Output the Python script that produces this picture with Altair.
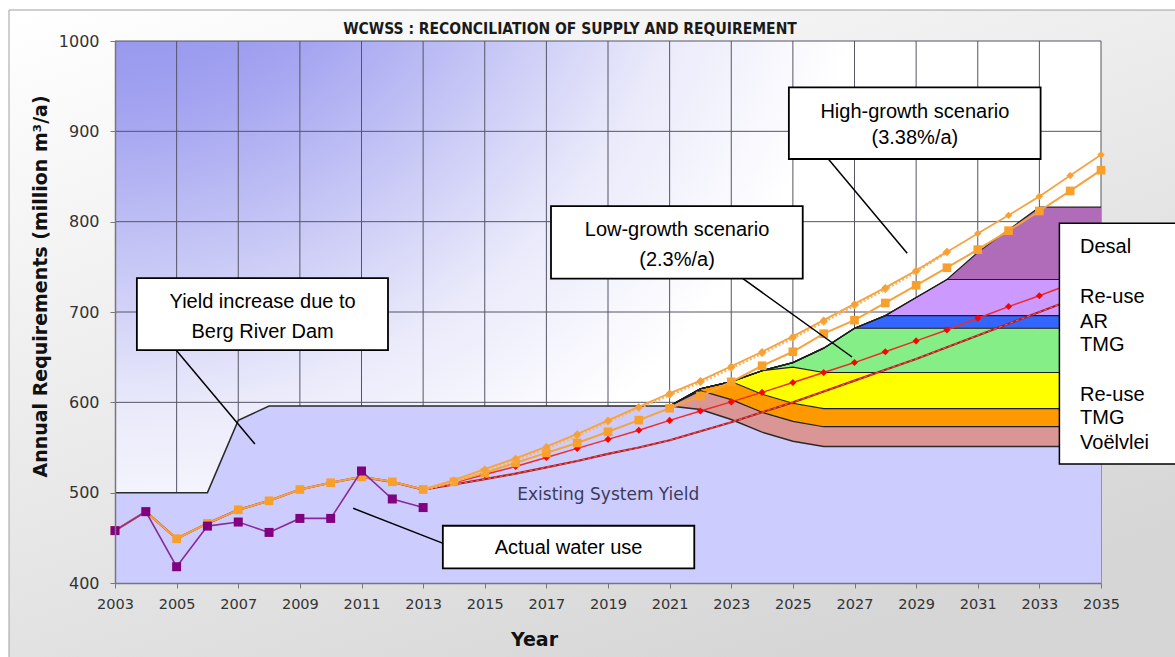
import altair as alt
import pandas as pd

# ---------------- data ----------------
X_TICKS = [2003, 2005, 2007, 2009, 2011, 2013, 2015, 2017, 2019, 2021, 2023, 2025, 2027, 2029, 2031, 2033, 2035]
Y_TICKS = [400, 500, 600, 700, 800, 900, 1000]
X_GRID = [2005, 2007, 2009, 2011, 2013, 2015, 2017, 2019, 2021, 2023, 2025, 2027, 2029, 2031, 2033, 2035]
Y_GRID = [500, 600, 700, 800, 900, 1000]

YEARS = [2003, 2004, 2005, 2006, 2007, 2008, 2009, 2010, 2011, 2012, 2013, 2014, 2015, 2016, 2017, 2018,
         2019, 2020, 2021, 2022, 2023, 2024, 2025, 2026, 2027, 2028, 2029, 2030, 2031, 2032, 2033, 2034, 2035]
HIST_YEARS = YEARS[:11]          # 2003-2013
FUT_YEARS = YEARS[10:]           # 2013-2035
DOT_YEARS = YEARS[10:28]         # 2013-2030
STACK_YEARS = YEARS[18:]         # 2021-2035

existing_yield = [500, 500, 500, 500, 580, 596, 596, 596, 596, 596, 596, 596, 596, 596, 596, 596,
                  596, 596, 596, 592, 581, 567, 557, 551, 551, 551, 551, 551, 551, 551, 551, 551, 551]

actual_use = [458, 479, 418, 463, 467.5, 456, 471.5, 471.5, 524, 493, 483.5]
historic_req = [458, 479, 449, 466, 481, 491, 503.5, 511, 517.5, 512, 503.5]

# 2014-2035 continuations
squares_future = [512, 522, 533, 544, 555, 567.4, 580.3, 593.5, 607, 622.7, 640.5, 656, 676, 691, 710,
                  729.6, 749, 769, 790, 811.8, 834, 857]
darkred_future = [509, 515, 521, 528, 535, 543, 550, 558, 568, 578, 589, 600, 612, 624, 636, 648, 661,
                  674, 687, 700, 713, 727]
# 2013-2035
high_diamonds = [503.5, 514, 526, 538, 551, 565, 580, 595, 610, 624, 640, 656, 673, 691, 709, 727, 746,
                 766.5, 787, 807, 828, 851, 874]
low_diamonds = [503.5, 511, 520, 529, 539, 549, 559, 569, 580, 590.5, 600.5, 611, 622, 633, 644, 656,
                668, 680, 693, 706, 718, 731, 744]
# 2013-2030
dotted_high = [503.5, 513, 524.5, 536.5, 549.5, 563.5, 579, 594, 608.5, 622.5, 638.5, 654.5, 671.5,
               689.5, 707.5, 725.5, 745, 766.5]

# supply increments 2021-2035 (stacked on existing yield)
voelvlei = [0, 21, 22, 22, 22, 22, 22, 22, 22, 22, 22, 22, 22, 22, 22]
tmg1 = [0, 2, 20, 20, 20, 20, 20, 20, 20, 20, 20, 20, 20, 20, 20]
reuse1 = [0, 0, 0, 26, 40, 40, 40, 40, 40, 40, 40, 40, 40, 40, 40]
tmg2 = [0, 0, 0, 0, 5, 27, 49, 49, 49, 49, 49, 49, 49, 49, 49]
ar = [0, 0, 0, 0, 0, 0, 0, 14, 14, 14, 14, 14, 14, 14, 14]
reuse2 = [0, 0, 0, 0, 0, 0, 0, 0, 20, 40, 40, 40, 40, 40, 40]
desal = [0, 0, 0, 0, 0, 0, 0, 0, 0, 0, 30, 55, 80, 80, 80]

LAYER_IDS = ["L1", "L2", "L3", "L4", "L5", "L6", "L7"]
LAYER_VALUES = [voelvlei, tmg1, reuse1, tmg2, ar, reuse2, desal]
LAYER_COLORS = ["#d99694", "#ff9900", "#ffff00", "#86ee86", "#3366ff", "#cc99ff", "#b06cb8"]

legend_lines = ["Desal", "Re-use", "AR", "TMG", "Re-use", "TMG", "Voëlvlei"]
TITLE = "WCWSS : RECONCILIATION OF SUPPLY AND REQUIREMENT"

# ---------------- tables ----------------
W, H = 986, 542
PAD_L, PAD_T = 115, 41

exist_df = pd.DataFrame({"x": YEARS, "y": existing_yield, "y2": [400] * len(YEARS)})

rows = []
base = existing_yield[18:]
cum = list(base)
for lid, vals in zip(LAYER_IDS, LAYER_VALUES):
    for i, yr in enumerate(STACK_YEARS):
        rows.append({"x": yr, "y2": cum[i], "y": cum[i] + vals[i], "layer": lid})
    cum = [c + v for c, v in zip(cum, vals)]
stack_df = pd.DataFrame(rows)

actual_df = pd.DataFrame({"x": HIST_YEARS, "y": actual_use})
squares_df = pd.DataFrame({"x": YEARS, "y": historic_req + squares_future})
darkred_df = pd.DataFrame({"x": YEARS, "y": historic_req + darkred_future})
high_df = pd.DataFrame({"x": FUT_YEARS, "y": high_diamonds})
low_df = pd.DataFrame({"x": FUT_YEARS, "y": low_diamonds})
dotted_df = pd.DataFrame({"x": DOT_YEARS, "y": dotted_high})

xgrid_df = pd.DataFrame({"x": X_GRID})
ygrid_df = pd.DataFrame({"y": Y_GRID})

# annotation boxes (data coordinates)
boxes_df = pd.DataFrame([
    {"x": 2003.71, "x2": 2011.86, "y": 737.6, "y2": 657.9},
    {"x": 2013.64, "x2": 2021.80, "y": 463.4, "y2": 416.3},
    {"x": 2017.15, "x2": 2025.32, "y": 817.3, "y2": 736.9},
    {"x": 2024.87, "x2": 2033.04, "y": 948.7, "y2": 869.4},
])
leaders_df = pd.DataFrame([
    {"x": 2004.98, "y": 657.9, "x2": 2007.54, "y2": 553.9},
    {"x": 2010.73, "y": 482.7, "x2": 2013.65, "y2": 443.9},
    {"x": 2023.38, "y": 736.9, "x2": 2026.92, "y2": 650.2},
    {"x": 2026.15, "y": 869.4, "x2": 2028.71, "y2": 765.0},
])
box_text_df = pd.DataFrame([
    {"x": 2007.79, "y": 711.1, "t": "Yield increase due to"},
    {"x": 2007.79, "y": 677.9, "t": "Berg River Dam"},
    {"x": 2017.72, "y": 438.4, "t": "Actual water use"},
    {"x": 2021.24, "y": 790.8, "t": "Low-growth scenario"},
    {"x": 2021.24, "y": 757.6, "t": "(2.3%/a)"},
    {"x": 2028.96, "y": 921.7, "t": "High-growth scenario"},
    {"x": 2028.96, "y": 892.3, "t": "(3.38%/a)"},
])
legend_box_df = pd.DataFrame([{"x": 2033.65, "x2": 2038.7, "y": 798.2, "y2": 531.7}])
legend_text_df = pd.DataFrame({"x": [2034.32] * 7,
                               "y": [772.3, 716.9, 689.3, 663.5, 608.1, 582.3, 554.6],
                               "t": legend_lines})
esy_df = pd.DataFrame([{"x": 2019.01, "y": 497.4, "t": "Existing System Yield"}])
one = pd.DataFrame({"a": [0]})
title_df = pd.DataFrame({"t": [TITLE]})

# ---------------- encodings ----------------
xs = alt.Scale(domain=[2003, 2035], nice=False, zero=False)
ys = alt.Scale(domain=[400, 1000], nice=False, zero=False)

x_axis = alt.Axis(values=X_TICKS, format="d", grid=False, domainColor="#777777", domainWidth=1.5,
                  tickColor="#777777", tickSize=5, labelFont="DejaVu Sans", labelFontSize=14.5,
                  labelColor="#333333", labelPadding=9, labelFlush=False,
                  title="Year", titleFont="DejaVu Sans", titleFontSize=19, titleFontWeight="bold",
                  titleColor="#111111", titleX=419, titleY=62, titleBaseline="alphabetic",
                  titleAlign="center", zindex=1)
y_axis = alt.Axis(values=Y_TICKS, format="d", grid=False, domainColor="#777777", domainWidth=1.5,
                  tickColor="#777777", tickSize=5, labelFont="DejaVu Sans", labelFontSize=16,
                  labelColor="#333333", labelPadding=11, labelFlush=False,
                  title="Annual Requirements (million m³/a)", titleFont="DejaVu Sans",
                  titleFontSize=19, titleFontWeight="bold", titleColor="#111111",
                  titleX=-75, titleY=245, titleBaseline="middle", titleAlign="center", zindex=1)


def X(f="x"):
    return alt.X(f, type="quantitative", scale=xs, axis=x_axis)


def Y(f="y"):
    return alt.Y(f, type="quantitative", scale=ys, axis=y_axis, stack=None)


# ---------------- layers ----------------
frame = alt.Chart(one).mark_rect(
    fill=alt.Gradient(gradient="linear", x1=0, y1=0, x2=0.6, y2=1,
                      stops=[alt.GradientStop(offset=0, color="#ffffff"),
                             alt.GradientStop(offset=1, color="#d6d6d6")]),
    stroke="#a0a0a0", strokeWidth=1
).encode(x=alt.value(9 - PAD_L), x2=alt.value(1175 - PAD_L + 20),
         y=alt.value(10 - PAD_T), y2=alt.value(657 - PAD_T + 20))

title_text = alt.Chart(title_df).mark_text(
    font="Liberation Sans Narrow, DejaVu Sans Condensed, Liberation Sans",
    fontSize=15.5, fontWeight="bold", color="#1a1a1a", align="center", baseline="alphabetic"
).encode(x=alt.value(570 - PAD_L), y=alt.value(34 - PAD_T), text="t:N")

plot_bg = alt.Chart(one).mark_rect(
    fill=alt.Gradient(gradient="radial", x1=0, y1=0, r1=0, x2=0, y2=0, r2=1,
                      stops=[alt.GradientStop(offset=0, color="#7777ea"),
                             alt.GradientStop(offset=0.3, color="#a4a4f1"),
                             alt.GradientStop(offset=0.6, color="#eaeafb"),
                             alt.GradientStop(offset=0.78, color="#ffffff"),
                             alt.GradientStop(offset=1, color="#ffffff")])
).encode(x=alt.value(0), x2=alt.value(W), y=alt.value(0), y2=alt.value(H))

xgrid = alt.Chart(xgrid_df).mark_rule(color="#555566", strokeWidth=1).encode(x=X("x"))
ygrid = alt.Chart(ygrid_df).mark_rule(color="#555566", strokeWidth=1).encode(y=Y("y"))

exist_area = alt.Chart(exist_df).mark_area(color="#ccccff", opacity=1).encode(
    x=X(), y=Y("y"), y2="y2")
exist_line = alt.Chart(exist_df).mark_line(color="#2a2a2a", strokeWidth=1.5).encode(x=X(), y=Y("y"))

stack_area = alt.Chart(stack_df).mark_area(opacity=1).encode(
    x=X(), y=Y("y"), y2="y2",
    color=alt.Color("layer:N", scale=alt.Scale(domain=LAYER_IDS, range=LAYER_COLORS), legend=None))
stack_line = alt.Chart(stack_df).mark_line(color="#1e1e1e", strokeWidth=1.2).encode(
    x=X(), y=Y("y"), detail="layer:N")

darkred_line = alt.Chart(darkred_df).mark_line(color="#b01e1e", strokeWidth=2.2).encode(x=X(), y=Y())
darkred_dash = alt.Chart(darkred_df).mark_line(color="#ff5a5a", strokeWidth=1,
                                               strokeDash=[3, 3]).encode(x=X(), y=Y())

low_line = alt.Chart(low_df).mark_line(color="#ee2a2a", strokeWidth=1.5).encode(x=X(), y=Y())
low_pts = alt.Chart(low_df).mark_point(shape="diamond", filled=True, size=50, color="#ff0000",
                                       opacity=1).encode(x=X(), y=Y())

sq_line = alt.Chart(squares_df).mark_line(color="#f5a33c", strokeWidth=2).encode(x=X(), y=Y())
sq_pts = alt.Chart(squares_df).mark_point(shape="square", filled=True, size=75, color="#f9a02a",
                                          opacity=1).encode(x=X(), y=Y())

dot_line = alt.Chart(dotted_df).mark_line(color="#f9b866", strokeWidth=3.5,
                                          strokeDash=[2, 2]).encode(x=X(), y=Y())
dot_pts = alt.Chart(dotted_df).mark_point(shape="diamond", filled=True, size=70, color="#f8a845",
                                          opacity=1).encode(x=X(), y=Y())

high_line = alt.Chart(high_df).mark_line(color="#f4a445", strokeWidth=1.8).encode(x=X(), y=Y())
high_pts = alt.Chart(high_df).mark_point(shape="diamond", filled=True, size=55, color="#f7a036",
                                         opacity=1).encode(x=X(), y=Y())

act_line = alt.Chart(actual_df).mark_line(color="#8a2a9a", strokeWidth=1.6).encode(x=X(), y=Y())
act_pts = alt.Chart(actual_df).mark_point(shape="square", filled=True, size=81, color="#800080",
                                          opacity=1).encode(x=X(), y=Y())

esy_text = alt.Chart(esy_df).mark_text(font="DejaVu Sans", fontSize=17, color="#3b3b5c",
                                       baseline="middle", align="center").encode(
    x=X(), y=Y(), text="t:N")

leaders = alt.Chart(leaders_df).mark_rule(color="#000000", strokeWidth=1.5).encode(
    x=X(), y=Y(), x2="x2", y2="y2")
boxes = alt.Chart(boxes_df).mark_rect(fill="#ffffff", stroke="#000000", strokeWidth=1.8).encode(
    x=X(), x2="x2", y=Y(), y2="y2")
box_text = alt.Chart(box_text_df).mark_text(font="Liberation Sans", fontSize=20, color="#000000",
                                            baseline="middle", align="center").encode(
    x=X(), y=Y(), text="t:N")

legend_box = alt.Chart(legend_box_df).mark_rect(fill="#ffffff", stroke="#000000", strokeWidth=1.5,
                                                clip=False).encode(
    x=X(), x2="x2", y=Y(), y2="y2")
legend_text = alt.Chart(legend_text_df).mark_text(font="Liberation Sans", fontSize=20, color="#000000",
                                                  baseline="middle", align="left").encode(
    x=X(), y=Y(), text="t:N")

chart = alt.layer(
    frame, title_text, plot_bg, xgrid, ygrid,
    exist_area, stack_area, stack_line, exist_line,
    darkred_line, darkred_dash, low_line, low_pts,
    sq_line, sq_pts, dot_line, dot_pts, high_line, high_pts,
    act_line, act_pts, esy_text,
    leaders, boxes, box_text, legend_box, legend_text
).properties(
    width=W, height=H,
    autosize=alt.AutoSizeParams(type="none"),
    padding={"left": PAD_L, "top": PAD_T, "right": 1175 - PAD_L - W, "bottom": 657 - PAD_T - H},
    background="#ffffff"
).configure_view(stroke=None)

chart.save("out.html", embed_options={"renderer": "svg", "actions": False})
